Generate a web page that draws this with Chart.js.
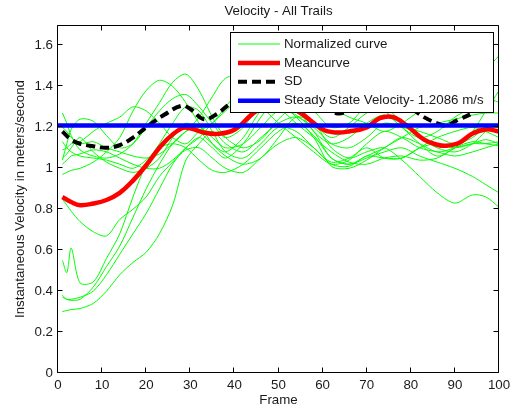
<!DOCTYPE html>
<html>
<head>
<meta charset="utf-8">
<title>Velocity - All Trails</title>
<script src="https://cdn.jsdelivr.net/npm/chart.js@4.4.1/dist/chart.umd.min.js"></script>
<style>
  html, body { margin: 0; padding: 0; background: #fff; }
  canvas { display: block; }
</style>
</head>
<body>
<canvas id="velocityChart" width="515" height="412"></canvas>
<script>
// frames sampled for every normalized trail curve
const trailFrames = [1, 2, 3, 5, 8, 11, 14, 17, 20, 23, 26, 29, 32, 35, 38, 42, 46, 50, 54, 58, 62, 66, 70, 74, 78, 82, 86, 90, 94, 97, 100];

// one array per trail (m/s)
const trail01 = [1.27, 1.22, 1.16, 1.09, 1.06, 1.05, 1.07, 1.12, 1.22, 1.32, 1.42, 1.46, 1.38, 1.25, 1.15, 1.10, 1.14, 1.24, 1.30, 1.22, 1.15, 1.20, 1.27, 1.30, 1.22, 1.15, 1.10, 1.08, 1.12, 1.18, 1.22];
const trail02 = [1.04, 1.12, 1.19, 1.24, 1.23, 1.16, 1.10, 1.12, 1.20, 1.28, 1.34, 1.36, 1.30, 1.22, 1.15, 1.20, 1.32, 1.38, 1.30, 1.18, 1.12, 1.15, 1.22, 1.26, 1.20, 1.12, 1.06, 1.10, 1.18, 1.28, 1.38];
const trail03 = [0.97, 0.98, 0.99, 1.00, 1.03, 1.08, 1.15, 1.28, 1.38, 1.43, 1.40, 1.32, 1.22, 1.12, 1.06, 1.02, 1.05, 1.15, 1.25, 1.22, 1.10, 1.05, 1.08, 1.10, 1.04, 0.96, 0.88, 0.83, 0.87, 0.86, 0.81];
const trail04 = [1.13, 1.10, 1.08, 1.06, 1.05, 1.04, 1.02, 1.00, 1.04, 1.10, 1.12, 1.10, 1.04, 0.99, 0.98, 1.02, 1.10, 1.18, 1.22, 1.16, 1.05, 1.02, 1.06, 1.10, 1.15, 1.12, 1.08, 1.10, 1.12, 1.12, 1.13];
const trail05 = [1.09, 1.10, 1.12, 1.13, 1.18, 1.22, 1.25, 1.30, 1.28, 1.22, 1.15, 1.12, 1.18, 1.22, 1.30, 1.40, 1.45, 1.42, 1.35, 1.28, 1.20, 1.22, 1.30, 1.28, 1.20, 1.15, 1.18, 1.25, 1.30, 1.35, 1.32];
const trail06 = [0.85, 0.82, 0.79, 0.74, 0.69, 0.67, 0.75, 0.80, 0.86, 0.96, 1.03, 1.09, 1.10, 1.05, 1.00, 0.98, 1.05, 1.12, 1.15, 1.10, 1.02, 1.01, 1.06, 1.05, 1.05, 1.10, 1.12, 1.10, 1.12, 1.14, 1.12];
const trail07 = [0.30, 0.305, 0.31, 0.315, 0.34, 0.40, 0.48, 0.54, 0.59, 0.68, 0.82, 1.04, 1.12, 1.18, 1.12, 1.08, 1.15, 1.22, 1.25, 1.20, 1.12, 1.10, 1.15, 1.22, 1.20, 1.18, 1.15, 1.12, 1.15, 1.20, 1.20];
const trail08 = [0.37, 0.36, 0.355, 0.36, 0.42, 0.52, 0.62, 0.76, 0.90, 1.02, 1.12, 1.18, 1.20, 1.15, 1.10, 1.12, 1.20, 1.28, 1.26, 1.18, 1.05, 1.02, 1.05, 1.08, 1.10, 1.06, 1.03, 1.00, 0.96, 0.92, 0.88];
const trail09 = [0.55, 0.49, 0.61, 0.44, 0.445, 0.56, 0.68, 0.86, 1.02, 1.12, 1.22, 1.30, 1.28, 1.18, 1.08, 1.05, 1.12, 1.20, 1.18, 1.10, 1.03, 1.05, 1.10, 1.05, 1.05, 1.10, 1.15, 1.18, 1.20, 1.18, 1.15];
const trail10 = [0.38, 0.36, 0.36, 0.37, 0.40, 0.48, 0.58, 0.68, 0.78, 0.90, 1.02, 1.10, 1.15, 1.22, 1.28, 1.35, 1.30, 1.22, 1.15, 1.08, 1.02, 1.04, 1.12, 1.18, 1.15, 1.10, 1.08, 1.06, 1.08, 1.10, 1.12];
const trail11 = [1.02, 1.04, 1.06, 1.07, 1.09, 1.08, 1.05, 1.02, 1.00, 1.00, 1.04, 1.10, 1.15, 1.10, 1.05, 1.12, 1.25, 1.35, 1.42, 1.38, 1.30, 1.25, 1.22, 1.18, 1.22, 1.28, 1.32, 1.35, 1.40, 1.48, 1.55];
const trail12 = [1.20, 1.18, 1.15, 1.12, 1.13, 1.10, 1.08, 1.06, 1.05, 1.07, 1.12, 1.18, 1.25, 1.35, 1.44, 1.45, 1.38, 1.30, 1.22, 1.15, 1.08, 1.03, 1.02, 1.05, 1.06, 1.04, 1.05, 1.10, 1.13, 1.12, 1.11];
const trail13 = [1.05, 1.07, 1.10, 1.15, 1.08, 1.03, 1.00, 0.98, 1.00, 1.05, 1.15, 1.22, 1.18, 1.12, 1.08, 1.15, 1.28, 1.32, 1.25, 1.15, 1.01, 1.00, 1.04, 1.10, 1.15, 1.20, 1.22, 1.24, 1.26, 1.27, 1.27];
const trails = [trail01, trail02, trail03, trail04, trail05, trail06, trail07, trail08, trail09, trail10, trail11, trail12, trail13];

// mean curve and SD curve
const meanFrames = [1, 3, 5, 8, 11, 14, 17, 20, 24, 28, 30, 33, 36, 40, 45, 50, 55, 60, 63, 66, 70, 73, 76, 79, 83, 86, 88, 91, 94, 97, 100];
const meanCurve = [0.86, 0.835, 0.82, 0.828, 0.845, 0.88, 0.94, 1.015, 1.125, 1.195, 1.195, 1.175, 1.168, 1.188, 1.28, 1.32, 1.27, 1.19, 1.175, 1.18, 1.20, 1.245, 1.25, 1.21, 1.14, 1.115, 1.11, 1.125, 1.17, 1.19, 1.18];
const sdCurve = [1.18, 1.14, 1.12, 1.108, 1.10, 1.113, 1.15, 1.20, 1.26, 1.305, 1.29, 1.24, 1.265, 1.33, 1.37, 1.39, 1.37, 1.32, 1.27, 1.28, 1.31, 1.34, 1.35, 1.31, 1.25, 1.22, 1.21, 1.24, 1.27, 1.32, 1.34];

const steadyFrames = [0, 100];
const steadyVelocity = 1.2086;

const xTicks = [0, 10, 20, 30, 40, 50, 60, 70, 80, 90, 100];
const yTicks = [0, 0.2, 0.4, 0.6, 0.8, 1, 1.2, 1.4, 1.6];

const FONT = 'Liberation Sans, Arial, Helvetica, sans-serif';
const TEXT = '#1a1a1a';
const font = { family: FONT, size: 13.3 };

const toPoints = (xs, ys) => xs.map((x, i) => ({ x, y: ys[i] }));

const datasets = trails.map((t, i) => ({
    label: i === 0 ? 'Normalized curve' : '',
    data: toPoints(trailFrames, t),
    borderColor: '#00ff00',
    borderWidth: 1,
    tension: 0.3,
    order: 4
}));
datasets.push({
    label: 'Meancurve',
    data: toPoints(meanFrames, meanCurve),
    borderColor: '#ff0000',
    borderWidth: 4.5,
    tension: 0.4,
    order: 3
});
datasets.push({
    label: 'SD',
    data: toPoints(meanFrames, sdCurve),
    borderColor: '#000000',
    borderWidth: 4,
    borderDash: [9, 5],
    tension: 0.4,
    order: 2
});
datasets.push({
    label: `Steady State Velocity- ${steadyVelocity} m/s`,
    data: steadyFrames.map(x => ({ x, y: steadyVelocity })),
    borderColor: '#0000ff',
    borderWidth: 4.5,
    order: 1
});

// axes box with inward ticks on all four sides
const boxAxes = {
    id: 'boxAxes',
    afterDatasetsDraw(chart) {
        const { ctx, chartArea: a, scales: { x, y } } = chart;
        const L = Math.round(a.left) - 0.5, R = Math.round(a.right) - 0.5;
        const T = Math.round(a.top) + 0.5, B = Math.round(a.bottom) - 0.5;
        const len = 5;
        ctx.save();
        ctx.strokeStyle = '#000';
        ctx.lineWidth = 1;
        ctx.beginPath();
        ctx.rect(L, T, R - L, B - T);
        xTicks.forEach(v => {
            const px = Math.round(x.getPixelForValue(v)) - 0.5;
            ctx.moveTo(px, B); ctx.lineTo(px, B - len);
            ctx.moveTo(px, T); ctx.lineTo(px, T + len);
        });
        yTicks.forEach(v => {
            const py = Math.round(y.getPixelForValue(v)) - 0.5;
            ctx.moveTo(L, py); ctx.lineTo(L + len, py);
            ctx.moveTo(R, py); ctx.lineTo(R - len, py);
        });
        ctx.stroke();

        ctx.fillStyle = TEXT;
        ctx.font = `13.3px ${FONT}`;
        ctx.textAlign = 'center';
        ctx.textBaseline = 'middle';
        ctx.fillText('Velocity - All Trails', (a.left + a.right) / 2, 11);
        ctx.restore();
    },
    afterDraw(chart) {
        const { ctx } = chart;
        const items = chart.data.datasets.filter(d => d.label);
        const box = { left: 230, top: 32, right: 493, bottom: 112 };
        ctx.save();
        ctx.fillStyle = '#fff';
        ctx.fillRect(box.left, box.top, box.right - box.left, box.bottom - box.top);
        ctx.strokeStyle = '#000';
        ctx.lineWidth = 1;
        ctx.strokeRect(box.left + 0.5, box.top + 0.5, box.right - box.left, box.bottom - box.top);
        ctx.font = `13.3px ${FONT}`;
        ctx.textBaseline = 'middle';
        ctx.textAlign = 'left';
        items.forEach((d, i) => {
            const yy = 44 + i * 18.9;
            ctx.beginPath();
            ctx.strokeStyle = d.borderColor;
            ctx.lineWidth = d.borderWidth;
            ctx.setLineDash(d.borderDash || []);
            ctx.moveTo(238, yy);
            ctx.lineTo(280, yy);
            ctx.stroke();
            ctx.setLineDash([]);
            ctx.fillStyle = TEXT;
            ctx.fillText(d.label, 284, yy);
        });
        ctx.restore();
    }
};

new Chart(document.getElementById('velocityChart').getContext('2d'), {
    type: 'line',
    data: { datasets },
    options: {
        responsive: false,
        animation: false,
        devicePixelRatio: 1,
        layout: { padding: { left: 0, right: 16, top: 25, bottom: 0 } },
        plugins: { legend: { display: false }, tooltip: { enabled: false } },
        elements: { point: { radius: 0 } },
        scales: {
            x: {
                type: 'linear',
                min: 0,
                max: 100,
                afterBuildTicks: s => { s.ticks = xTicks.map(v => ({ value: v })); },
                afterFit: s => { s.height = 39; },
                grid: { display: false, drawTicks: false },
                border: { display: false },
                ticks: { color: TEXT, font, padding: 4, maxRotation: 0, autoSkip: false },
                title: { display: true, text: 'Frame', color: TEXT, font, padding: { top: 0, bottom: 4 } }
            },
            y: {
                type: 'linear',
                min: 0,
                max: 1.7,
                afterBuildTicks: s => { s.ticks = yTicks.map(v => ({ value: v })); },
                afterFit: s => { s.width = 58; },
                grid: { display: false, drawTicks: false },
                border: { display: false },
                ticks: {
                    color: TEXT, font, padding: 5, autoSkip: false,
                    callback: v => String(Math.round(v * 10) / 10)
                },
                title: {
                    display: true, text: 'Instantaneous Velocity in meters/second',
                    color: TEXT, font, padding: { top: 12, bottom: 0 }
                }
            }
        }
    },
    plugins: [boxAxes]
});
</script>
</body>
</html>
